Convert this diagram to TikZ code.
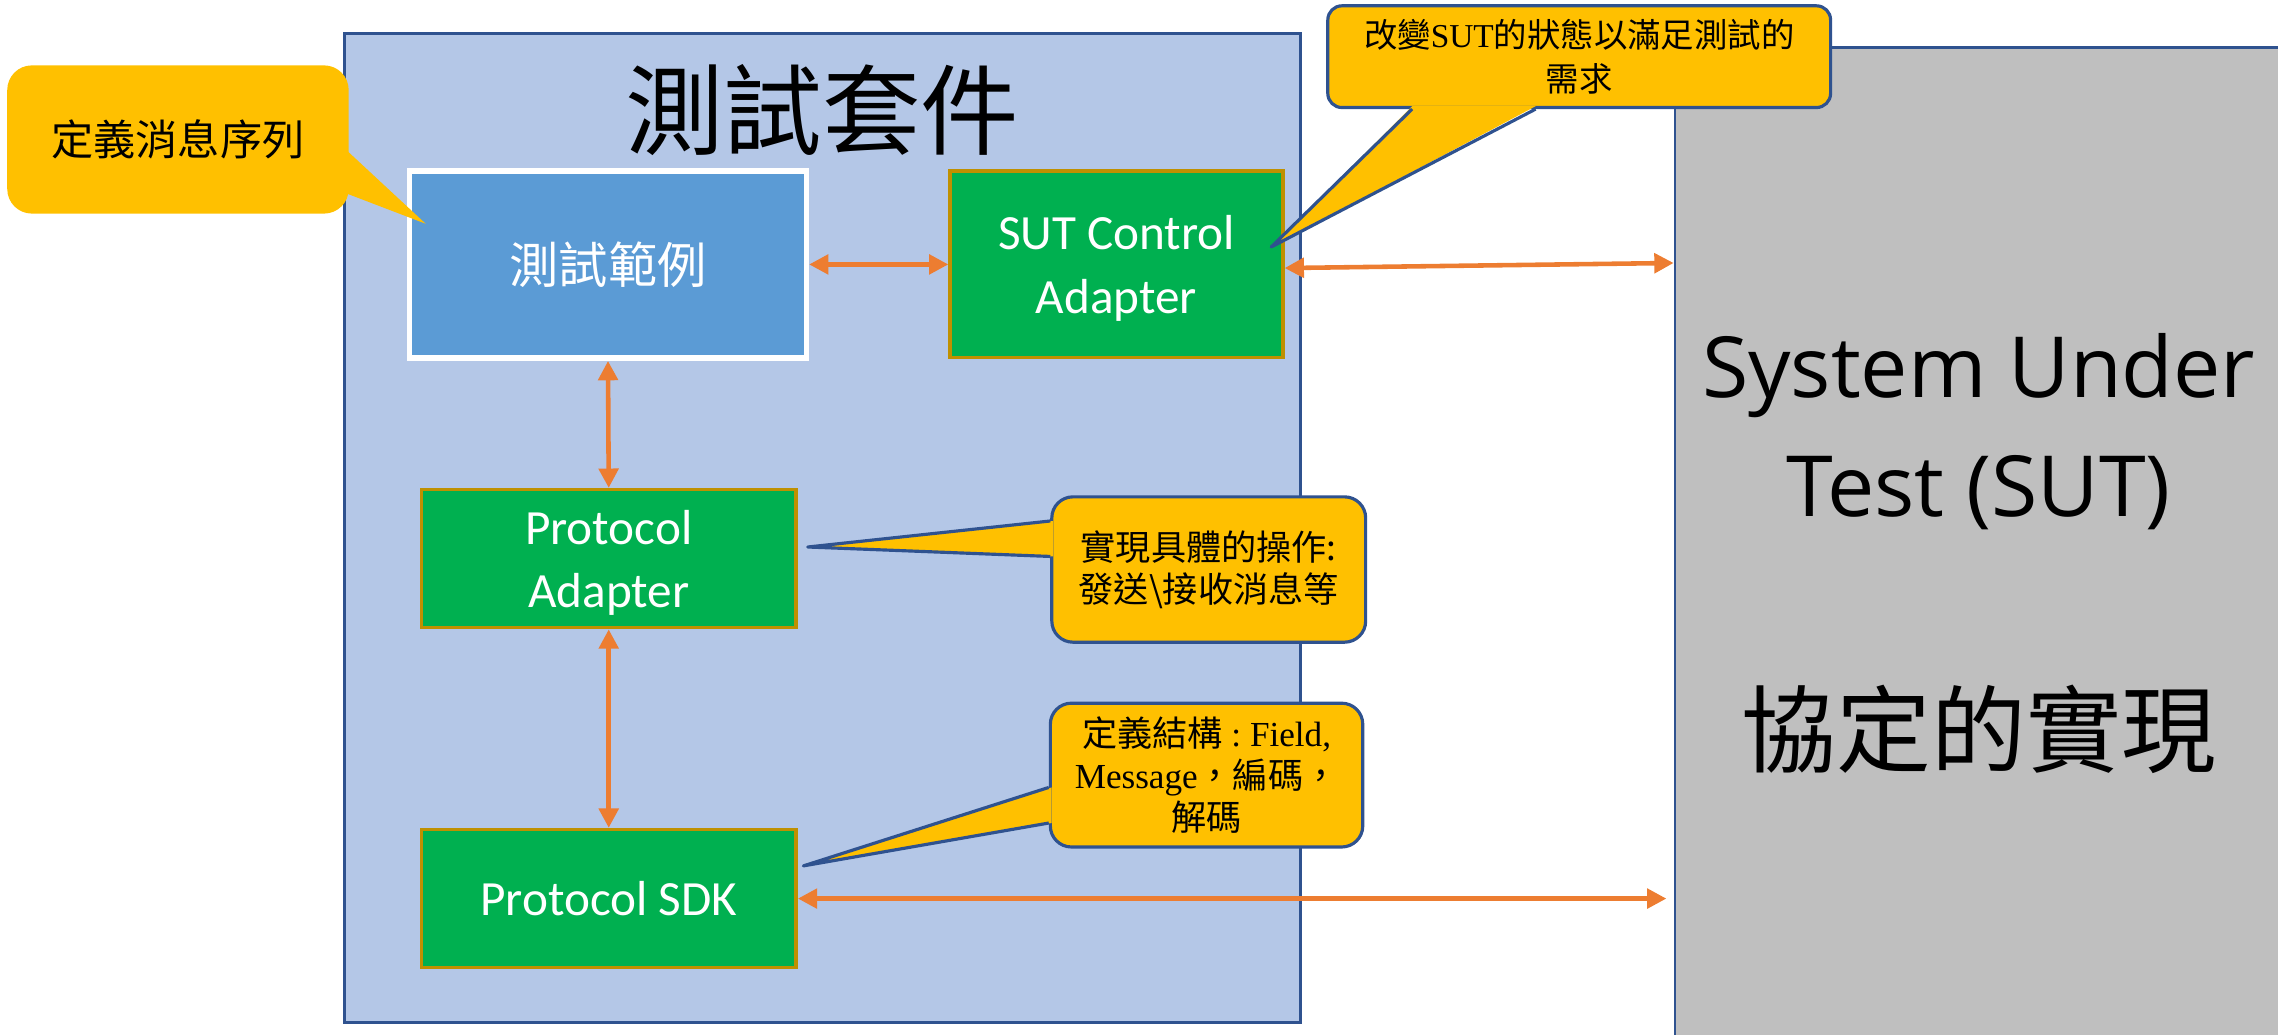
\documentclass[tikz,border=0pt]{standalone}
\usepackage{fontspec}
\usepackage{xcolor}
\usepackage{tikz}
\usetikzlibrary{arrows.meta,positioning,calc}
\setmainfont{Carlito}
\newfontfamily\cjk{Noto Sans CJK TC}
\newfontfamily\tnr{Liberation Serif}
\newfontfamily\wide{Open Sans}
\definecolor{tsblue}{HTML}{B4C7E7}
\definecolor{tsedge}{HTML}{2F528F}
\definecolor{tscase}{HTML}{5B9BD5}
\definecolor{tsgreen}{HTML}{00B050}
\definecolor{tsgold}{HTML}{BF9000}
\definecolor{tsorange}{HTML}{ED7D31}
\definecolor{tsnote}{HTML}{FFC000}
\definecolor{tsgray}{HTML}{BFBFBF}

\begin{document}
\begin{tikzpicture}[
  x=0.014528cm, y=-0.014528cm,
  suite/.style={draw=tsedge, line width=0.8pt, fill=tsblue, inner sep=0pt},
  casebox/.style={draw=white, line width=1.6pt, fill=tscase, text=white,
    font=\cjk\fontsize{14}{17}\selectfont},
  adapter/.style={draw=tsgold, line width=1pt, fill=tsgreen, text=white,
    align=center, font=\fontsize{14}{18}\selectfont, text depth=0pt,
    minimum width=3.748cm, minimum height=1.380cm},
  sutbox/.style={draw=tsedge, line width=0.8pt, fill=tsgray,
    minimum width=6.087cm, minimum height=9.923cm},
  note/.style={fill=tsnote, draw=tsedge, line width=0.9pt, align=center, inner sep=0pt},
  noteline/.style={tsedge, line width=0.9pt, line join=round},
  arr/.style={{Triangle[length=5.5pt,width=5.5pt]}-{Triangle[length=5.5pt,width=5.5pt]},
    line width=1.3pt, tsorange},
]
\useasboundingbox (0,0) rectangle (1568,712.4);

% test suite and system under test
\node[suite, minimum width=9.559cm, minimum height=9.886cm] (suite) at (566,363.25) {};
\node[font=\cjk\fontsize{28}{34}\selectfont] (title) at (566,76) {測試套件};
\node[sutbox] (sut) at (1362.5,374.5) {};
\node[font=\wide\fontsize{24}{34}\selectfont, align=center] (sutname) at (1362,297) {System Under\\Test (SUT)};
\node[font=\cjk\fontsize{27}{32}\selectfont, anchor=base] (sutimpl) at (1362,527) {協定的實現};

% blocks inside the suite
\node[casebox, minimum width=3.966cm, minimum height=1.874cm] (case) at (418.5,182) {測試範例};
\node[adapter, minimum width=3.327cm, minimum height=1.864cm] (ctl) at (768.5,182) {SUT Control\\Adapter};
\node[adapter] (padapt) at (419,384.5) {Protocol\\Adapter};
\node[adapter] (psdk) at (419,618.5) {Protocol SDK};

% links
\draw[arr] (case.east) -- (ctl.west);
\draw[arr] ($(ctl.east)+(0,2.5)$) -- ($(sut.west |- ctl.east)+(0,-1)$);
\draw[arr] (case.south) -- (padapt.north);
\draw[arr] (padapt.south) -- (psdk.north);
\draw[arr] (psdk.east) -- ($(sut.west |- psdk.east)+(-5,0)$);

% callouts
\node[note, draw=none, rounded corners=7pt, minimum width=3.414cm, minimum height=1.482cm,
  font=\cjk\fontsize{12}{14}\selectfont] (noteseq) at (122.5,96) {定義消息序列};
\coordinate (tipseq) at (293,154);
\fill[tsnote] ($(noteseq.east |- 0,103)+(-3,0)$) -- (tipseq) -- ($(noteseq.east |- 0,133)+(-3,0)$) -- cycle;

\node[note, rounded corners=4pt, minimum width=5.027cm, minimum height=1.017cm,
  font=\cjk\fontsize{9.5}{12.4}\selectfont] (notesut) at (1087,39) {改變{\tnr SUT}的狀態以滿足測試的\\需求};
\coordinate (tipsut) at (875,170);
\fill[tsnote] ($(notesut.south -| 972,0)+(0,-2)$) -- (tipsut) -- ($(notesut.south -| 1057,0)+(0,-2)$) -- cycle;
\draw[noteline] (notesut.south -| 972,0) -- (tipsut) -- (notesut.south -| 1057,0);

\node[note, rounded corners=6pt, minimum width=3.138cm, minimum height=1.453cm,
  font=\cjk\fontsize{10}{12}\selectfont] (noteop) at (832,392) {實現具體的操作:\\發送\textbackslash 接收消息等};
\coordinate (tipop) at (556,376.5);
\fill[tsnote] ($(noteop.west |- 0,358.6)+(2,0)$) -- (tipop) -- ($(noteop.west |- 0,383)+(2,0)$) -- cycle;
\draw[noteline] (noteop.west |- 0,358.6) -- (tipop) -- (noteop.west |- 0,383);

\node[note, rounded corners=6pt, minimum width=3.124cm, minimum height=1.438cm,
  font=\cjk\fontsize{10}{12}\selectfont] (notedef) at (830.5,533.5)
  {定義結構{\tnr\ :\ Field,}\\{\tnr Message}，編碼，\\解碼};
\coordinate (tipdef) at (553,596);
\fill[tsnote] ($(notedef.west |- 0,542)+(2,0)$) -- (tipdef) -- ($(notedef.west |- 0,566.5)+(2,0)$) -- cycle;
\draw[noteline] (notedef.west |- 0,542) -- (tipdef) -- (notedef.west |- 0,566.5);
\end{tikzpicture}
\end{document}
